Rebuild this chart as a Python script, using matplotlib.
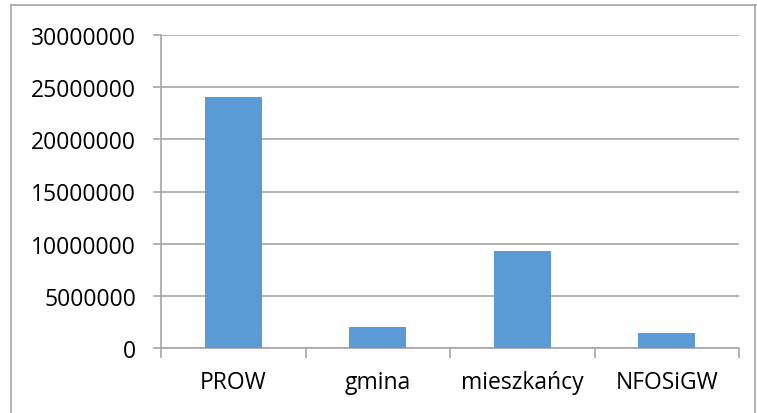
import matplotlib
matplotlib.use("Agg")
import matplotlib.pyplot as plt
from matplotlib.lines import Line2D
import numpy as np

categories = ["PROW", "gmina", "mieszkańcy", "NFOSiGW"]
values = [24050000, 2050000, 9330000, 1480000]
yticks = [0, 5000000, 10000000, 15000000, 20000000, 25000000, 30000000]

plt.rcParams['font.family'] = ['Open Sans', 'DejaVu Sans']

W, H = 757, 414
fig = plt.figure(figsize=(W/100, H/100), dpi=100)
ax = fig.add_axes([161/W, 1-349/H, (739-161)/W, (349-36)/H])

x = np.arange(len(categories))
ax.bar(x, values, width=0.395, color="#5b9bd5", zorder=3)

ax.set_xlim(-0.5, len(categories)-0.5)
ax.set_ylim(0, 30000000)
ax.set_yticks(yticks)
ax.set_yticklabels([str(v) for v in yticks], fontsize=16.5, color="#000000")
ax.set_xticks(x)
ax.set_xticklabels(categories, fontsize=16.5, color="#000000")
ax.tick_params(axis='x', length=0, pad=16)
ax.tick_params(axis='y', length=6, color="#a6a6a6", width=1.2, pad=12)

# category boundary ticks on x axis
ax.set_xticks(np.arange(len(categories)+1)-0.5, minor=True)
ax.tick_params(axis='x', which='minor', length=7, color="#a6a6a6", width=1.2)

ax.yaxis.grid(True, color="#a6a6a6", linewidth=1.2, zorder=0)
ax.set_axisbelow(True)
for s in ["top", "right"]:
    ax.spines[s].set_visible(False)
ax.spines["left"].set_color("#a6a6a6")
ax.spines["bottom"].set_color("#a6a6a6")
ax.spines["left"].set_linewidth(1.2)
ax.spines["bottom"].set_linewidth(1.2)

# chart area border
bc = "#a6a6a6"
fig.add_artist(Line2D([11/W, 11/W], [0, 1-6/H], color=bc, lw=1.2, transform=fig.transFigure))
fig.add_artist(Line2D([11/W, 1], [1-6/H, 1-6/H], color=bc, lw=1.2, transform=fig.transFigure))
fig.add_artist(Line2D([755/W, 755/W], [0, 1-6/H], color=bc, lw=1.2, transform=fig.transFigure))

fig.savefig("out.png", dpi=100)
